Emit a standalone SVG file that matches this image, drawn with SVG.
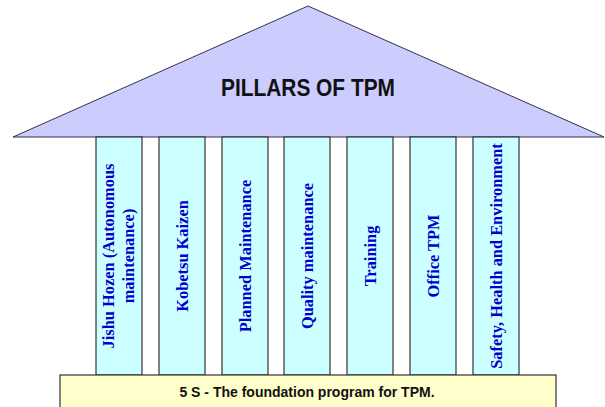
<svg xmlns="http://www.w3.org/2000/svg" width="605" height="407" viewBox="0 0 605 407">
  <style>
    .roof { fill: #ccccff; stroke: #333344; stroke-width: 1; }
    .pillar { fill: #ccffff; stroke: #333333; stroke-width: 1.2; }
    .base { fill: #ffffcc; stroke: #333333; stroke-width: 1.2; }
    .ptext { font-family: "Liberation Serif", "Times New Roman", serif; font-weight: bold; font-size: 16.4px; fill: #0000cc; text-anchor: middle; }
    .title { font-family: "Liberation Sans", Arial, sans-serif; font-weight: bold; font-size: 23px; fill: #111111; text-anchor: middle; }
    .btext { font-family: "Liberation Sans", Arial, sans-serif; font-weight: bold; font-size: 14px; fill: #111111; text-anchor: middle; }
  </style>
  <rect x="0" y="0" width="605" height="407" fill="#ffffff"/>

  <!-- roof -->
  <g id="roof">
    <polygon class="roof" points="13,137 308,6 604,137"/>
    <text class="title" x="308" y="96" textLength="174" lengthAdjust="spacingAndGlyphs">PILLARS OF TPM</text>
  </g>

  <!-- pillars -->
  <g id="pillar-jishu-hozen">
    <rect class="pillar" x="96" y="137" width="46" height="238"/>
    <text class="ptext" transform="translate(114,256) rotate(-90)">Jishu Hozen (Autonomous</text>
    <text class="ptext" transform="translate(134,256) rotate(-90)">maintenance)</text>
  </g>
  <g id="pillar-kobetsu-kaizen">
    <rect class="pillar" x="159" y="137" width="46" height="238"/>
    <text class="ptext" transform="translate(188,256) rotate(-90)">Kobetsu Kaizen</text>
  </g>
  <g id="pillar-planned-maintenance">
    <rect class="pillar" x="222" y="137" width="46" height="238"/>
    <text class="ptext" transform="translate(251,256) rotate(-90)">Planned Maintenance</text>
  </g>
  <g id="pillar-quality-maintenance">
    <rect class="pillar" x="284" y="137" width="46" height="238"/>
    <text class="ptext" transform="translate(313,256) rotate(-90)">Quality maintenance</text>
  </g>
  <g id="pillar-training">
    <rect class="pillar" x="347" y="137" width="46" height="238"/>
    <text class="ptext" transform="translate(376,256) rotate(-90)">Training</text>
  </g>
  <g id="pillar-office-tpm">
    <rect class="pillar" x="410" y="137" width="46" height="238"/>
    <text class="ptext" transform="translate(439,256) rotate(-90)">Office TPM</text>
  </g>
  <g id="pillar-safety">
    <rect class="pillar" x="473" y="137" width="46" height="238"/>
    <text class="ptext" transform="translate(502,256) rotate(-90)">Safety, Health and Environment</text>
  </g>

  <!-- foundation -->
  <g id="foundation">
    <rect class="base" x="60" y="375" width="496" height="40"/>
    <text class="btext" x="307" y="397">5 S - The foundation program for TPM.</text>
  </g>

  <g id="connectors"/>
</svg>
